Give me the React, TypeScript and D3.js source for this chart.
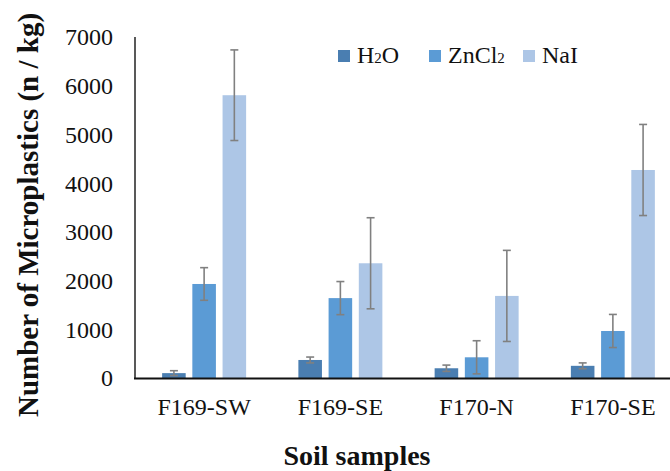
import React from 'react';
import * as d3 from 'd3';

const samples = ['F169-SW', 'F169-SE', 'F170-N', 'F170-SE'];
const seriesKeys = ['H2O', 'ZnCl2', 'NaI'];
const h2oValues = [100, 370, 200, 250];
const h2oErrors = [50, 60, 65, 60];
const zncl2Values = [1930, 1640, 425, 965];
const zncl2Errors = [335, 340, 340, 340];
const naiValues = [5805, 2355, 1685, 4270];
const naiErrors = [930, 935, 935, 935];
const yTicks = [0, 1000, 2000, 3000, 4000, 5000, 6000, 7000];

const colors = ['#4a7eb1', '#5b9bd5', '#adc6e6'];
const width = 670;
const height = 471;
const font = "'Liberation Serif', Tinos, 'Times New Roman', Times, 'DejaVu Serif', serif";

const series = [
  { key: 'H2O', values: h2oValues, errors: h2oErrors },
  { key: 'ZnCl2', values: zncl2Values, errors: zncl2Errors },
  { key: 'NaI', values: naiValues, errors: naiErrors },
];

const LegendLabel = ({ k }: { k: string }) => {
  if (k === 'H2O') {
    return (
      <>
        H<tspan fontSize={15}>2</tspan>O
      </>
    );
  }
  if (k === 'ZnCl2') {
    return (
      <>
        ZnCl<tspan fontSize={15}>2</tspan>
      </>
    );
  }
  return <>{k}</>;
};

const App = () => {
  const x = d3.scaleBand().domain(samples).range([136, 681]);
  const inner = d3.scaleBand().domain(seriesKeys).range([0, 84]).paddingInner(0.22);
  const y = d3.scaleLinear().domain([0, 7000]).range([378, 37]);

  const legendX = [338, 429, 523];

  return (
    <svg
      width={width}
      height={height}
      style={{ position: 'absolute', left: 0, top: 0, fontFamily: font }}
    >
      <rect width={width} height={height} fill="#fff" />

      {/* bars */}
      {series.map((s, si) => (
        <g key={s.key}>
          {samples.map((c, i) => {
            const bx = x(c)! + x.bandwidth() / 2 - 42 + inner(s.key)!;
            return (
              <rect
                key={c}
                x={bx}
                y={y(s.values[i])}
                width={inner.bandwidth()}
                height={y(0) - y(s.values[i])}
                fill={colors[si]}
              />
            );
          })}
        </g>
      ))}

      {/* error bars */}
      {series.map((s) => (
        <g key={s.key + '-err'} stroke="#808080" strokeWidth={1.6}>
          {samples.map((c, i) => {
            const cx = x(c)! + x.bandwidth() / 2 - 42 + inner(s.key)! + inner.bandwidth() / 2;
            const hi = y(s.values[i] + s.errors[i]);
            const lo = y(Math.max(0, s.values[i] - s.errors[i]));
            return (
              <g key={c}>
                <line x1={cx} x2={cx} y1={hi} y2={lo} />
                <line x1={cx - 4} x2={cx + 4} y1={hi} y2={hi} />
                <line x1={cx - 4} x2={cx + 4} y1={lo} y2={lo} />
              </g>
            );
          })}
        </g>
      ))}

      {/* axes */}
      <line x1={135} x2={135} y1={37} y2={379} stroke="#222" strokeWidth={1.5} />
      <line x1={134} x2={670} y1={378.5} y2={378.5} stroke="#111" strokeWidth={2} />

      {yTicks.map((t) => (
        <text key={t} x={113} y={y(t)} dy="0.35em" textAnchor="end" fontSize={24} fill="#111">
          {t}
        </text>
      ))}

      {samples.map((c) => (
        <text
          key={c}
          x={x(c)! + x.bandwidth() / 2}
          y={415}
          textAnchor="middle"
          fontSize={24}
          fill="#111"
        >
          {c}
        </text>
      ))}

      <text x={357} y={465} textAnchor="middle" fontSize={28} fontWeight="bold" fill="#111">
        Soil samples
      </text>

      <text
        transform="translate(38,215) rotate(-90)"
        textAnchor="middle"
        fontSize={29}
        fontWeight="bold"
        fill="#111"
      >
        Number of Microplastics (n / kg)
      </text>

      {/* legend */}
      {seriesKeys.map((k, i) => (
        <g key={k}>
          <rect x={legendX[i]} y={50} width={12} height={12} fill={colors[i]} />
          <text x={legendX[i] + 19} y={63} fontSize={24} fill="#111">
            <LegendLabel k={k} />
          </text>
        </g>
      ))}
    </svg>
  );
};

export default App;
